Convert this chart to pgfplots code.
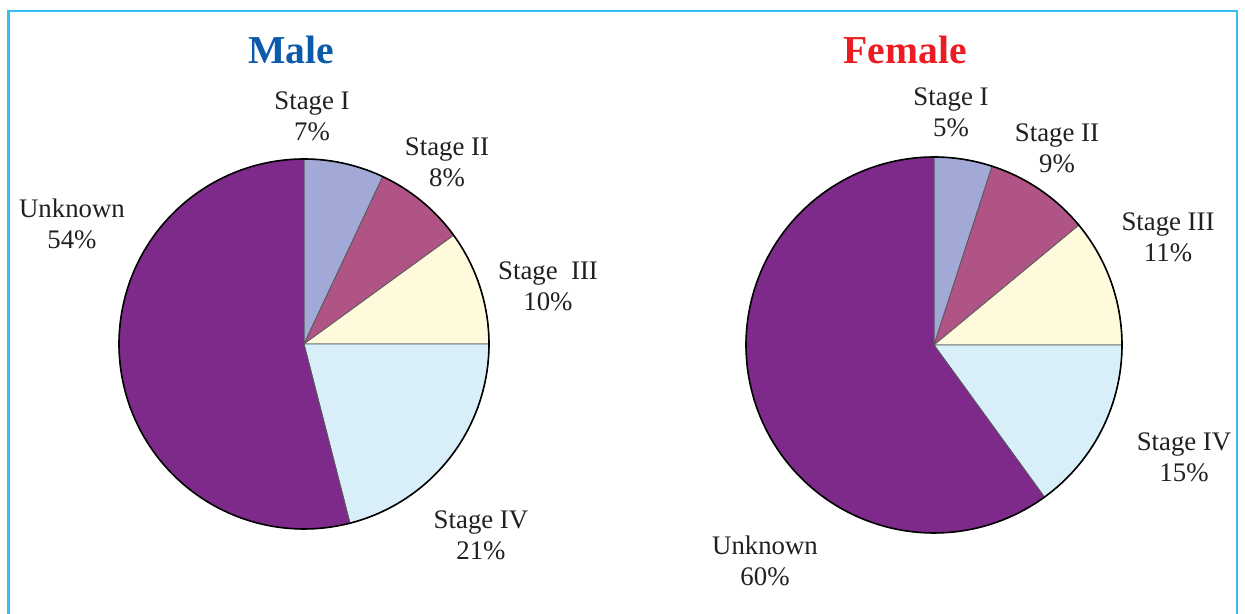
\documentclass[border=0pt]{standalone}
\usepackage{pgfplots}
\pgfplotsset{compat=1.18}
\usepackage{fontspec}
\setmainfont{Liberation Serif}
\definecolor{sI}{HTML}{A3A9D6}
\definecolor{sII}{HTML}{B05486}
\definecolor{sIII}{HTML}{FFFADC}
\definecolor{sIV}{HTML}{D8EEF9}
\definecolor{sU}{HTML}{7E2A8A}
\definecolor{frame}{HTML}{33C0F0}
\definecolor{txt}{HTML}{231F20}
\definecolor{tblue}{HTML}{0B5BAA}
\definecolor{tred}{HTML}{EC1C24}
\tikzset{lbl/.style={font=\fontsize{13.4}{15.6}\selectfont, text=txt, align=center, inner sep=0pt}}
% slice: cx, cy, r, start angle, end angle, colour
\newcommand{\slice}[6]{%
  \addplot[fill=#6, draw=black!65, line width=0.4pt, domain=#4:#5, samples=60, variable=\t]
    ({#1+#3*cos(\t)},{#2+#3*sin(\t)}) -- (axis cs:#1,#2) -- cycle;}
\newcommand{\rim}[3]{%
  \addplot[draw=black, line width=0.8pt, domain=0:360, samples=200, variable=\t]
    ({#1+#3*cos(\t)},{#2+#3*sin(\t)});}
\begin{document}
\begin{tikzpicture}
\begin{axis}[x=0.5pt, y=0.5pt, xmin=0, xmax=1245, ymin=0, ymax=614,
  hide axis, clip=false]
% Male: Stage I 7, Stage II 8, Stage III 10, Stage IV 21, Unknown 54 (clockwise from top)
\slice{304}{270}{185}{64.8}{90}{sI}
\slice{304}{270}{185}{36}{64.8}{sII}
\slice{304}{270}{185}{0}{36}{sIII}
\slice{304}{270}{185}{-75.6}{0}{sIV}
\slice{304}{270}{185}{-270}{-75.6}{sU}
\rim{304}{270}{185}
% Female: Stage I 5, Stage II 9, Stage III 11, Stage IV 15, Unknown 60
\slice{934}{269}{188}{72}{90}{sI}
\slice{934}{269}{188}{39.6}{72}{sII}
\slice{934}{269}{188}{0}{39.6}{sIII}
\slice{934}{269}{188}{-54}{0}{sIV}
\slice{934}{269}{188}{-270}{-54}{sU}
\rim{934}{269}{188}
% frame
\draw[color=frame, line width=1.1pt] (axis cs:8.5,-5) -- (axis cs:8.5,603) -- (axis cs:1237,603) -- (axis cs:1237,-5);
% titles
\node[font=\fontsize{19.8}{22}\selectfont\bfseries, text=tblue] at (axis cs:291,564) {Male};
\node[font=\fontsize{19.8}{22}\selectfont\bfseries, text=tred] at (axis cs:905,564) {Female};
% male labels
\node[lbl] at (axis cs:312,498) {Stage I\\7\%};
\node[lbl] at (axis cs:447,452) {Stage II\\8\%};
\node[lbl] at (axis cs:548,328) {Stage\ \ III\\10\%};
\node[lbl] at (axis cs:481,79) {Stage IV\\21\%};
\node[lbl] at (axis cs:72,390) {Unknown\\54\%};
% female labels
\node[lbl] at (axis cs:951,502) {Stage I\\5\%};
\node[lbl] at (axis cs:1057,466) {Stage II\\9\%};
\node[lbl] at (axis cs:1168,377) {Stage III\\11\%};
\node[lbl] at (axis cs:1184,157) {Stage IV\\15\%};
\node[lbl] at (axis cs:765,53) {Unknown\\60\%};
\end{axis}
\pgfresetboundingbox
\useasboundingbox (current axis.south west) rectangle (current axis.north east);
\end{tikzpicture}
\end{document}
